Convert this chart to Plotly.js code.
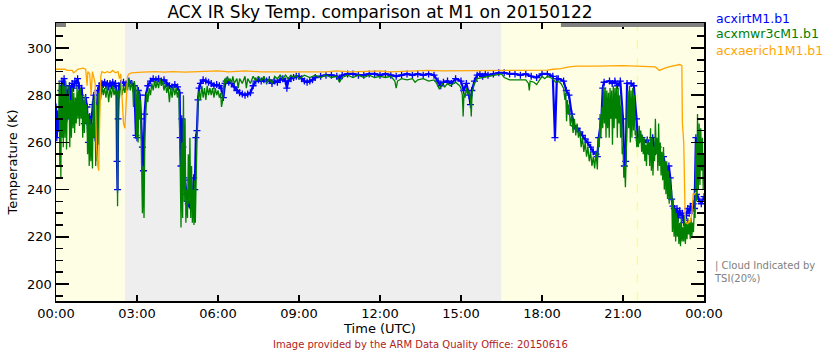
<!DOCTYPE html>
<html><head><meta charset="utf-8">
<script src="https://cdn.plot.ly/plotly-3.0.1.min.js"></script>
<style>html,body{margin:0;padding:0;background:#fff}#c{width:840px;height:350px}</style>
</head><body><div id="c"></div>
<script>
// time in hours UTC
var tickVals = [0,3,6,9,12,15,18,21,24];
var tickText = ["00:00","03:00","06:00","09:00","12:00","15:00","18:00","21:00","00:00"];

// acxmwr3cM1.b1 (green)
var green_t = [0.10,0.12,0.14,0.16,0.18,0.20,0.22,0.25,0.27,0.30,0.33,0.36,0.39,0.42,0.45,0.48,0.51,0.54,0.57,0.60,0.63,0.66,0.69,0.72,0.75,0.78,0.81,0.84,0.87,0.90,0.93,0.96,0.99,1.02,1.05,1.08,1.11,1.14,1.17,1.20,1.23,1.26,1.29,1.32,1.35,1.38,1.41,1.44,1.47,1.50,1.53,1.56,1.59,1.62,1.65,1.70,1.75,1.80,1.85,1.90,1.95,2.00,2.05,2.10,2.15,2.20,2.26,2.28,2.30,2.35,2.40,2.45,2.50,2.55,2.60,2.65,2.70,2.75,2.80,2.85,2.87,2.90,2.95,2.98,3.01,3.04,3.07,3.10,3.13,3.17,3.20,3.23,3.26,3.29,3.32,3.36,3.40,3.45,3.50,3.55,3.60,3.65,3.70,3.75,3.80,3.85,3.90,3.95,4.00,4.05,4.10,4.15,4.20,4.25,4.30,4.35,4.40,4.45,4.50,4.55,4.60,4.63,4.66,4.69,4.72,4.75,4.78,4.81,4.84,4.87,4.90,4.93,4.96,4.99,5.02,5.05,5.08,5.11,5.13,5.16,5.20,5.23,5.26,5.30,5.35,5.40,5.45,5.50,5.55,5.60,5.65,5.70,5.75,5.80,5.85,5.90,5.95,6.00,6.05,6.10,6.13,6.16,6.20,6.25,6.30,6.35,6.40,6.45,6.50,6.55,6.60,6.70,6.75,6.80,6.90,7.00,7.05,7.10,7.20,7.30,7.40,7.50,7.60,7.70,7.80,7.90,8.00,8.10,8.20,8.30,8.40,8.50,8.60,8.70,8.80,8.90,9.00,9.20,9.40,9.60,9.80,10.00,10.20,10.40,10.50,10.60,10.80,11.00,11.20,11.40,11.60,11.80,12.00,12.20,12.40,12.55,12.60,12.65,12.80,13.00,13.20,13.30,13.40,13.60,13.80,14.00,14.10,14.20,14.30,14.40,14.50,14.60,14.80,14.95,15.00,15.05,15.08,15.11,15.15,15.20,15.25,15.30,15.35,15.38,15.41,15.45,15.50,15.60,15.80,16.00,16.20,16.40,16.50,16.60,16.80,17.00,17.20,17.40,17.50,17.53,17.56,17.70,17.80,17.90,18.00,18.10,18.20,18.30,18.40,18.50,18.60,18.70,18.80,18.85,18.88,18.91,18.94,18.97,19.00,19.05,19.10,19.15,19.20,19.25,19.30,19.35,19.40,19.45,19.50,19.55,19.60,19.65,19.70,19.75,19.80,19.85,19.90,19.95,20.00,20.05,20.08,20.12,20.15,20.18,20.22,20.25,20.28,20.31,20.34,20.37,20.40,20.43,20.46,20.49,20.52,20.55,20.58,20.61,20.64,20.67,20.70,20.73,20.76,20.79,20.82,20.85,20.88,20.91,20.94,20.97,21.00,21.03,21.06,21.09,21.12,21.15,21.18,21.21,21.24,21.27,21.30,21.33,21.36,21.39,21.42,21.45,21.48,21.51,21.54,21.57,21.60,21.63,21.66,21.69,21.72,21.75,21.78,21.81,21.84,21.87,21.90,21.93,21.96,21.99,22.02,22.05,22.08,22.11,22.14,22.17,22.20,22.23,22.26,22.29,22.32,22.35,22.38,22.41,22.44,22.47,22.50,22.53,22.56,22.59,22.62,22.65,22.68,22.71,22.74,22.77,22.80,22.83,22.86,22.89,22.92,22.95,22.98,23.01,23.04,23.07,23.10,23.13,23.16,23.19,23.22,23.25,23.28,23.31,23.34,23.37,23.40,23.43,23.46,23.49,23.52,23.55,23.58,23.61,23.64,23.67,23.70,23.73,23.76,23.79,23.82,23.85,23.88,23.91,23.94,23.97,24.00];
var green_v = [270,286,250,284,245,280,262,285,258,284,262,286,257,280,270,284,258,278,262,283,266,281,264,279,268,284,270,282,267,283,270,280,262,278,264,280,268,276,255,272,250,270,252,268,249,278,262,280,250,276,252,281,259,282,278,284,280,283,279,284,277,283,279,284,280,283,280,233,282,279,285,280,284,281,285,282,287,282,286,281,275,286,282,262,284,260,282,270,278,245,230,250,228,262,272,281,277,283,280,285,282,286,283,286,283,287,284,286,282,285,281,284,277,283,279,284,280,283,279,282,250,224,260,228,280,235,270,226,240,228,255,234,262,228,250,226,240,225,244,226,250,265,278,282,278,284,279,283,278,284,280,283,280,283,279,283,280,282,279,281,275,277,282,287,285,288,286,287,285,288,285,287,283,287,285,288,283,287,285,288,286,288,286,288,285,287,285,288,287,288.5,287,288.5,287,288.5,287.5,288.5,287,288.5,287.5,288.5,287.5,288.5,287.5,288,285.5,287.5,288.5,287.5,288.5,287.5,288.5,287.5,288,287.5,288,286,283,286,287,286.5,287,285.5,286.5,287,286,286.5,285,282.5,285,283.5,285,284,285.5,284,283,280,271,281,279,283,280,282,279,271,281,283,285,287,287.5,288,288.5,289,289,287.5,286.5,286.5,286.5,286.5,285,282,286,285.5,284.5,286,288,287,288,287.5,287,285.5,286,285,283,278,281,269,278,272,276,267,272,264,270,263,268,262,265,258,262,256,260,254,258,252,256,250,254,249,256,248.5,262,258,272,262,275,266,284,268,283,262,282,266,281,262,283,270,282,259,284,266,283,270,284,262,283,268,280,262,276,255,258,245,250,241,262,270,282,266,284,260,282,262,283,265,280,263,265,258,262,258,267,260,265,256,263,255,262,252,259,250,262,255,260,250,266,248,262,246,258,252,270,255,262,248,268,250,260,246,256,244,258,240,252,238,252,236,248,234,245,236,240,222,236,220,232,218,230,220,228,217,226,216,228,218,224,218,229,217,226,219,228,221,226,219,228,220,226,222,232,228,260,235,272,240,268,242,266,248,262,240,255];

// acxirtM1.b1 (blue)
var blue_t = [0.00,0.03,0.06,0.09,0.12,0.15,0.18,0.22,0.26,0.30,0.35,0.40,0.45,0.50,0.55,0.60,0.65,0.70,0.75,0.80,0.85,0.90,0.95,1.00,1.05,1.10,1.15,1.20,1.25,1.30,1.35,1.40,1.45,1.50,1.55,1.60,1.65,1.70,1.75,1.80,1.85,1.90,1.95,2.00,2.05,2.10,2.15,2.20,2.24,2.26,2.28,2.30,2.33,2.40,2.50,2.60,2.70,2.80,2.90,2.96,3.00,3.05,3.10,3.15,3.20,3.24,3.28,3.33,3.40,3.50,3.60,3.70,3.80,3.90,4.00,4.10,4.20,4.30,4.40,4.50,4.58,4.60,4.63,4.66,4.70,4.74,4.78,4.82,4.86,4.90,4.94,4.98,5.02,5.06,5.10,5.14,5.18,5.22,5.26,5.30,5.35,5.45,5.55,5.65,5.75,5.85,5.95,6.05,6.12,6.20,6.26,6.30,6.40,6.50,6.60,6.70,6.80,6.90,7.00,7.10,7.20,7.30,7.40,7.50,7.60,7.70,7.80,7.90,8.00,8.10,8.20,8.30,8.40,8.50,8.55,8.60,8.70,8.80,8.90,9.00,9.10,9.20,9.30,9.40,9.50,9.60,9.80,10.00,10.20,10.40,10.50,10.60,10.80,11.00,11.20,11.40,11.60,11.80,12.00,12.20,12.40,12.60,12.80,13.00,13.20,13.40,13.60,13.80,14.00,14.15,14.25,14.35,14.50,14.65,14.80,15.00,15.10,15.20,15.30,15.35,15.40,15.50,15.60,15.70,15.80,15.90,16.00,16.20,16.40,16.60,16.80,17.00,17.20,17.40,17.60,17.80,18.00,18.20,18.40,18.48,18.55,18.60,18.80,18.90,19.00,19.10,19.20,19.30,19.40,19.50,19.60,19.70,19.80,19.90,20.00,20.05,20.10,20.20,20.25,20.30,20.50,20.60,20.70,20.80,20.90,21.00,21.05,21.10,21.15,21.30,21.40,21.50,21.55,21.60,21.70,21.80,21.90,22.00,22.05,22.10,22.20,22.30,22.40,22.50,22.60,22.70,22.75,22.80,22.85,22.90,22.95,23.00,23.05,23.10,23.15,23.20,23.25,23.30,23.35,23.40,23.45,23.50,23.55,23.60,23.65,23.70,23.72,23.80,23.90,24.00];
var blue_v = [275,262,272,266,270,275,282,286,284,287,284,270,282,284,278,285,283,286,285,287,284,280,283,276,268,279,275,260,271,268,276,280,262,275,282,284,282,285,284.5,285.5,284,285,283.5,285,284,285.5,284,285,281,252,240,270,284,285,285.5,284,286,285,284,263,262,282,280,270,258,248,272,280,284,286,287,286.5,287,286,286.5,285,284,283.5,284.5,283.5,281,262,250,270,258,245,244,238,235,234,233.5,233,234,235,245,240,262,265,278,283,285,286.5,286,285.5,285,284,284.5,284,283,279,285,286,285.5,285,283.5,282,281,280.5,280,280.5,281,284,286,286.5,286,286.5,286,286.5,285,286,285.5,286.5,287,286,283,286,287,287.5,288,288,287,286,285.5,286,286.5,287.5,288,288.5,288.5,288,287,288.5,289,289,288.5,288.5,289,289,288.5,289,288.5,288,288.5,289,288.5,289,288.5,289,288.5,286,284,285.5,286,285,287,286,282,285,280,276,282,286,288.5,289,288,289,288.5,289,289.5,289.5,289,289,288.5,289,288,287.5,289,289,288,262,287,287,286,282,280,272,267,266,264.5,263,261.5,260,258,256,255,254,262,270,283,285.5,286,285,286,284,286,270,250,252,285,285,284,270,262,261,262,260,261,258,255,262,256,258,252,254,248,250,245,236,233,232,230,232,228,231,229,230,226,227,229,232,230,233,231,234,232,262,238,236,234,237];

// acxaerich1M1.b1 (orange)
var orange_t = [0.00,0.35,0.40,0.60,0.65,0.72,0.80,1.00,1.10,1.15,1.18,1.25,1.30,1.35,1.45,1.50,1.55,1.58,1.62,1.66,1.70,1.80,1.90,2.00,2.10,2.20,2.30,2.35,2.40,2.45,2.50,2.55,2.60,2.65,2.70,2.80,3.20,3.70,4.00,4.30,4.80,5.30,6.00,6.40,7.00,7.60,8.00,8.50,9.20,10.00,10.40,10.90,11.50,12.00,12.30,13.00,13.80,14.30,15.00,15.60,16.20,16.50,17.10,18.20,18.40,18.70,19.00,19.30,20.00,20.50,21.00,21.50,22.00,22.20,22.35,22.50,22.70,22.90,23.10,23.18,23.20,23.25,23.26,23.30,23.32,23.40,23.45,23.50,23.55,23.60,23.65,23.70];
var orange_v = [291,291,290.5,290.5,289.5,290,291,291.5,291,284,290,289,280,290,285,258,250,248,270,288,290,289.5,290,289.5,290.5,289.5,290,287,289,275,268,266,280,288,289,289.5,289.8,290,289.8,290,289.8,290,290.3,289.9,290.3,289.9,290,289.9,289.9,289.9,290.3,289.9,290.1,290.3,289.9,290.3,290.5,290.3,290.3,290.3,290.3,290.3,290.6,290.6,291,291.3,292,292.3,292.3,292.5,292.5,292.3,292.3,292,290.5,291.3,292,292.5,293,292.5,268,260,250,230,226,225.5,227,226.5,230,238,238,239];

// background periods (hours) and top flag bars
var bg_start = [0, 2.55, 16.5];
var bg_end   = [2.55, 16.5, 24];
var bg_col   = ["#FEFEE4", "#EEEEEE", "#FEFEE4"];
var flag_start = [0, 18.7];
var flag_end   = [0.37, 24];
var tsi_line = 21.53;

var shapes = [];
for (var i = 0; i < bg_start.length; i++) {
  shapes.push({type:'rect', xref:'x', yref:'paper', x0:bg_start[i], x1:bg_end[i], y0:0, y1:1,
    fillcolor:bg_col[i], line:{width:0}, layer:'below'});
}
for (var j = 0; j < flag_start.length; j++) {
  shapes.push({type:'rect', xref:'x', yref:'paper', x0:flag_start[j], x1:flag_end[j], y0:1-4/278, y1:1,
    fillcolor:'#808080', line:{width:0}, layer:'above'});
}
shapes.push({type:'line', xref:'x', yref:'paper', x0:tsi_line, x1:tsi_line, y0:0, y1:1,
  line:{color:'#FFFF55', width:1, dash:'dash'}, layer:'below'});

var F = "DejaVu Sans, sans-serif";
var traces = [
  {x: blue_t, y: blue_v, type:'scatter', mode:'lines+markers', line:{color:'#0000FF', width:2.2},
   marker:{symbol:'cross-thin-open', size:5, color:'#0000FF', line:{color:'#0000FF', width:1.3}}, hoverinfo:'skip'},
  {x: green_t, y: green_v, type:'scatter', mode:'lines', line:{color:'#008000', width:1.3}, hoverinfo:'skip'},
  {x: orange_t, y: orange_v, type:'scatter', mode:'lines', line:{color:'#FFA500', width:1.3}, hoverinfo:'skip'}
];

var layout = {
  width: 840, height: 350,
  margin: {l:56, r:136, t:23, b:49, pad:0},
  paper_bgcolor:'#FFFFFF', plot_bgcolor:'#FFFFFF',
  showlegend:false,
  font:{family:F, size:13, color:'#000'},
  title:{text:'ACX IR Sky Temp. comparison at M1 on 20150122', font:{family:F, size:17, color:'#000'},
    x:380/840, xanchor:'center', y:1-12/350, yanchor:'middle'},
  xaxis:{range:[0,24], tickvals:tickVals, ticktext:tickText, ticks:'inside', ticklen:6, tickwidth:1.5,
    tickcolor:'#000', showline:true, linecolor:'#000', linewidth:1.5, mirror:'allticks', showgrid:false, zeroline:false,
    tickfont:{family:F, size:13, color:'#000'},
    title:{text:'Time (UTC)', font:{family:F, size:13, color:'#000'}, standoff:2}},
  yaxis:{range:[192.8,310.6], tickvals:[200,220,240,260,280,300], ticks:'inside', ticklen:13, tickwidth:1.5,
    tickcolor:'#000', showline:true, linecolor:'#000', linewidth:1.5, mirror:'allticks', showgrid:false, zeroline:false,
    tickfont:{family:F, size:13, color:'#000'},
    minor:{dtick:5, tick0:200, ticks:'inside', ticklen:7, tickwidth:1.5, tickcolor:'#000', showgrid:false},
    title:{text:'Temperature (K)', font:{family:F, size:13, color:'#000'}, standoff:6}},
  shapes: shapes,
  annotations:[
    {text:'acxirtM1.b1', xref:'paper', yref:'paper', x:(714-56)/648, y:1+(23-18)/278, xanchor:'left', yanchor:'middle', showarrow:false, font:{family:F, size:12.5, color:'#0000FF'}},
    {text:'acxmwr3cM1.b1', xref:'paper', yref:'paper', x:(714-56)/648, y:1+(23-34)/278, xanchor:'left', yanchor:'middle', showarrow:false, font:{family:F, size:12.5, color:'#008000'}},
    {text:'acxaerich1M1.b1', xref:'paper', yref:'paper', x:(714-56)/648, y:1+(23-50)/278, xanchor:'left', yanchor:'middle', showarrow:false, font:{family:F, size:12.5, color:'#FFA500'}},
    {text:'| Cloud Indicated by<br>TSI(20%)', xref:'paper', yref:'paper', x:(712-56)/648, y:(301-272)/278, xanchor:'left', yanchor:'middle', align:'left', showarrow:false, font:{family:F, size:10, color:'#808080'}},
    {text:'Image provided by the ARM Data Quality Office: 20150616', xref:'paper', yref:'paper', x:(420-56)/648, y:(301-344)/278, xanchor:'center', yanchor:'middle', showarrow:false, font:{family:F, size:10, color:'#B22222'}}
  ]
};
Plotly.newPlot('c', traces, layout, {staticPlot:true, displayModeBar:false});
</script></body></html>
